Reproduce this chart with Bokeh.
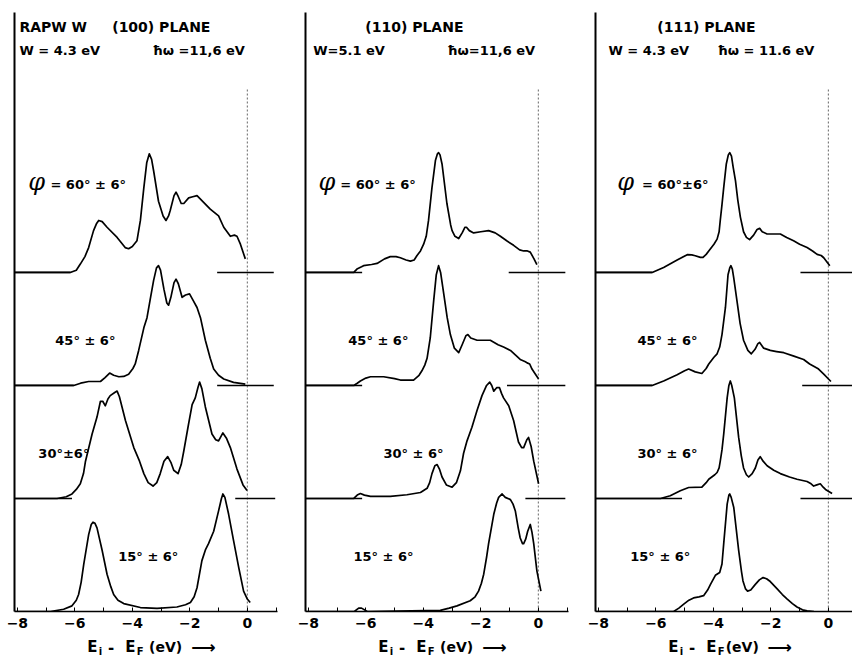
from bokeh.plotting import figure
from bokeh.layouts import row, column
from bokeh.models import Range1d, FixedTicker
from bokeh.core.properties import value
from bokeh.embed import file_html
from bokeh.resources import INLINE

# ---------------- data: (E_i - E_F in eV, intensity in arbitrary units) ----------------
angles = ["60", "45", "30", "15"]
major_ticks = [-8, -6, -4, -2, 0]
minor_ticks = [-7, -5, -3, -1, 1]

# (100) plane
s100_60 = [(-6.16, 0), (-5.95, 0.02), (-5.81, 0.074), (-5.65, 0.14), (-5.52, 0.22), (-5.35, 0.37), (-5.25, 0.43),
           (-5.17, 0.46), (-5.05, 0.45), (-4.88, 0.40), (-4.53, 0.31), (-4.25, 0.22), (-4.13, 0.21), (-4.00, 0.23),
           (-3.84, 0.28), (-3.72, 0.46), (-3.60, 0.75), (-3.50, 0.97), (-3.41, 1.05), (-3.33, 1.00), (-3.26, 0.90),
           (-3.09, 0.63), (-2.93, 0.50), (-2.83, 0.46), (-2.74, 0.50), (-2.68, 0.55), (-2.55, 0.68), (-2.48, 0.71),
           (-2.40, 0.67), (-2.30, 0.61), (-2.21, 0.61), (-2.04, 0.66), (-1.90, 0.67), (-1.75, 0.68), (-1.52, 0.62),
           (-1.29, 0.56), (-1.00, 0.50), (-0.82, 0.40), (-0.59, 0.32), (-0.45, 0.33), (-0.36, 0.32), (-0.24, 0.25),
           (-0.07, 0.12)]
s100_45 = [(-6.04, 0), (-5.80, 0.02), (-5.52, 0.035), (-5.11, 0.035), (-4.95, 0.07), (-4.79, 0.11), (-4.65, 0.09),
           (-4.47, 0.077), (-4.30, 0.08), (-4.13, 0.10), (-3.98, 0.15), (-3.90, 0.19), (-3.78, 0.31), (-3.60, 0.51),
           (-3.49, 0.60), (-3.38, 0.76), (-3.26, 0.93), (-3.16, 1.04), (-3.09, 1.06), (-3.02, 1.02), (-2.90, 0.85),
           (-2.80, 0.73), (-2.74, 0.71), (-2.66, 0.78), (-2.55, 0.91), (-2.48, 0.94), (-2.40, 0.90), (-2.27, 0.78),
           (-2.15, 0.80), (-2.01, 0.81), (-1.90, 0.76), (-1.75, 0.69), (-1.63, 0.60), (-1.46, 0.40), (-1.29, 0.24),
           (-1.17, 0.145), (-1.00, 0.09), (-0.82, 0.057), (-0.48, 0.027), (-0.07, 0.012)]
s100_30 = [(-6.62, 0), (-6.30, 0.015), (-6.10, 0.04), (-5.95, 0.08), (-5.81, 0.13), (-5.70, 0.22), (-5.63, 0.33),
           (-5.40, 0.57), (-5.23, 0.72), (-5.11, 0.86), (-5.03, 0.86), (-4.94, 0.82), (-4.85, 0.88), (-4.77, 0.91),
           (-4.60, 0.94), (-4.53, 0.95), (-4.45, 0.90), (-4.24, 0.69), (-3.95, 0.45), (-3.75, 0.33), (-3.60, 0.22),
           (-3.45, 0.14), (-3.28, 0.11), (-3.15, 0.14), (-3.03, 0.22), (-2.90, 0.33), (-2.77, 0.37), (-2.66, 0.32),
           (-2.56, 0.25), (-2.41, 0.22), (-2.30, 0.30), (-2.21, 0.42), (-2.05, 0.65), (-1.92, 0.83), (-1.81, 0.89),
           (-1.72, 0.98), (-1.66, 1.03), (-1.58, 0.97), (-1.46, 0.81), (-1.23, 0.57), (-1.10, 0.52), (-1.00, 0.51),
           (-0.85, 0.58), (-0.72, 0.53), (-0.59, 0.45), (-0.36, 0.26), (-0.15, 0.12), (-0.01, 0.07)]
s100_15 = [(-6.85, 0), (-6.39, 0.02), (-6.10, 0.05), (-5.95, 0.10), (-5.87, 0.15), (-5.78, 0.26), (-5.69, 0.42),
           (-5.52, 0.68), (-5.43, 0.77), (-5.37, 0.79), (-5.30, 0.78), (-5.23, 0.74), (-5.05, 0.54), (-4.88, 0.33),
           (-4.75, 0.22), (-4.65, 0.15), (-4.50, 0.10), (-4.30, 0.07), (-3.72, 0.035), (-3.14, 0.027), (-2.45, 0.04),
           (-2.15, 0.06), (-1.98, 0.08), (-1.85, 0.13), (-1.75, 0.21), (-1.58, 0.45), (-1.45, 0.55), (-1.35, 0.60),
           (-1.17, 0.71), (-1.00, 0.89), (-0.90, 1.00), (-0.85, 1.04), (-0.78, 1.01), (-0.65, 0.86), (-0.48, 0.63),
           (-0.30, 0.39), (-0.13, 0.18), (0.00, 0.11), (0.10, 0.08)]

# (110) plane
s110_60 = [(-6.42, 0), (-6.31, 0.03), (-6.15, 0.05), (-6.08, 0.06), (-5.80, 0.07), (-5.61, 0.08), (-5.35, 0.12),
           (-5.15, 0.14), (-4.95, 0.14), (-4.80, 0.13), (-4.60, 0.11), (-4.45, 0.10), (-4.32, 0.11), (-4.22, 0.15),
           (-4.10, 0.19), (-3.99, 0.25), (-3.90, 0.32), (-3.82, 0.46), (-3.70, 0.75), (-3.58, 0.99), (-3.51, 1.05),
           (-3.47, 1.06), (-3.42, 1.04), (-3.35, 0.96), (-3.18, 0.61), (-3.05, 0.42), (-3.00, 0.37), (-2.90, 0.32),
           (-2.77, 0.30), (-2.65, 0.35), (-2.55, 0.40), (-2.50, 0.40), (-2.40, 0.37), (-2.25, 0.35), (-2.00, 0.36),
           (-1.73, 0.37), (-1.50, 0.35), (-1.32, 0.32), (-1.10, 0.28), (-0.86, 0.24), (-0.65, 0.20), (-0.51, 0.19),
           (-0.38, 0.19), (-0.28, 0.18), (-0.15, 0.12), (-0.05, 0.07)]
s110_45 = [(-6.42, 0), (-6.30, 0.02), (-6.19, 0.04), (-6.00, 0.065), (-5.84, 0.077), (-5.38, 0.077), (-5.00, 0.06),
           (-4.80, 0.048), (-4.34, 0.048), (-4.15, 0.09), (-4.05, 0.13), (-3.95, 0.18), (-3.87, 0.24), (-3.76, 0.42),
           (-3.64, 0.75), (-3.55, 0.98), (-3.47, 1.06), (-3.40, 1.00), (-3.29, 0.81), (-3.17, 0.60), (-3.06, 0.45),
           (-2.92, 0.33), (-2.77, 0.29), (-2.65, 0.36), (-2.52, 0.44), (-2.45, 0.45), (-2.35, 0.42), (-2.13, 0.40),
           (-1.90, 0.40), (-1.67, 0.40), (-1.40, 0.36), (-1.21, 0.34), (-0.97, 0.31), (-0.80, 0.27), (-0.63, 0.23),
           (-0.45, 0.21), (-0.39, 0.20), (-0.30, 0.19), (-0.22, 0.145), (-0.10, 0.10), (0.01, 0.057)]
s110_30 = [(-6.42, 0), (-6.30, 0.03), (-6.19, 0.044), (-6.05, 0.03), (-5.84, 0.018), (-5.15, 0.018), (-4.57, 0.033),
           (-4.10, 0.053), (-3.87, 0.09), (-3.78, 0.14), (-3.70, 0.22), (-3.60, 0.29), (-3.52, 0.30), (-3.44, 0.26),
           (-3.35, 0.19), (-3.20, 0.12), (-3.00, 0.10), (-2.85, 0.14), (-2.71, 0.245), (-2.60, 0.40), (-2.48, 0.51),
           (-2.31, 0.63), (-2.13, 0.78), (-1.96, 0.91), (-1.80, 1.00), (-1.69, 1.03), (-1.62, 1.00), (-1.55, 0.95),
           (-1.45, 0.98), (-1.35, 0.98), (-1.28, 0.93), (-1.21, 0.89), (-1.03, 0.82), (-0.86, 0.69), (-0.69, 0.50),
           (-0.58, 0.45), (-0.51, 0.45), (-0.40, 0.52), (-0.34, 0.54), (-0.25, 0.46), (-0.16, 0.33), (0.01, 0.13)]
s110_15 = [(-6.40, 0), (-6.25, 0.03), (-6.15, 0.03), (-5.95, 0), (-3.41, 0.01), (-3.10, 0.03), (-2.83, 0.05),
           (-2.37, 0.095), (-2.20, 0.13), (-2.08, 0.18), (-1.98, 0.25), (-1.90, 0.33), (-1.80, 0.48), (-1.73, 0.60),
           (-1.55, 0.86), (-1.45, 0.96), (-1.38, 1.01), (-1.26, 1.04), (-1.15, 1.01), (-0.97, 0.99), (-0.88, 0.95),
           (-0.80, 0.89), (-0.70, 0.74), (-0.63, 0.65), (-0.55, 0.60), (-0.51, 0.60), (-0.44, 0.64), (-0.37, 0.71),
           (-0.28, 0.77), (-0.22, 0.70), (-0.16, 0.60), (-0.05, 0.36), (0.09, 0.18)]

# (111) plane
s111_60 = [(-6.13, 0), (-5.73, 0.044), (-5.26, 0.11), (-4.91, 0.157), (-4.75, 0.155), (-4.63, 0.148), (-4.45, 0.133),
           (-4.36, 0.133), (-4.25, 0.16), (-4.16, 0.19), (-3.98, 0.25), (-3.87, 0.295), (-3.80, 0.36), (-3.76, 0.46),
           (-3.70, 0.60), (-3.64, 0.75), (-3.55, 0.96), (-3.48, 1.04), (-3.43, 1.06), (-3.37, 1.03), (-3.31, 0.93),
           (-3.23, 0.81), (-3.15, 0.64), (-3.06, 0.49), (-2.95, 0.36), (-2.85, 0.31), (-2.74, 0.29), (-2.60, 0.33),
           (-2.48, 0.38), (-2.39, 0.39), (-2.30, 0.36), (-2.13, 0.34), (-1.90, 0.34), (-1.67, 0.34), (-1.45, 0.31),
           (-1.21, 0.28), (-1.00, 0.25), (-0.74, 0.22), (-0.55, 0.19), (-0.39, 0.16), (-0.25, 0.15), (-0.16, 0.13),
           (0.05, 0.06)]
s111_45 = [(-6.13, 0), (-5.73, 0.04), (-5.26, 0.095), (-5.00, 0.13), (-4.86, 0.145), (-4.63, 0.12), (-4.40, 0.106),
           (-4.25, 0.15), (-4.16, 0.19), (-3.98, 0.25), (-3.87, 0.28), (-3.78, 0.34), (-3.70, 0.45), (-3.58, 0.69),
           (-3.49, 0.98), (-3.43, 1.04), (-3.39, 1.06), (-3.34, 1.03), (-3.29, 0.95), (-3.18, 0.75), (-3.07, 0.55),
           (-2.95, 0.40), (-2.80, 0.31), (-2.68, 0.28), (-2.55, 0.32), (-2.45, 0.37), (-2.39, 0.38), (-2.25, 0.33),
           (-2.02, 0.31), (-1.80, 0.30), (-1.55, 0.29), (-1.20, 0.26), (-0.86, 0.23), (-0.65, 0.19), (-0.51, 0.17),
           (-0.40, 0.155), (-0.34, 0.145), (-0.16, 0.10), (0.09, 0.035)]
s111_30 = [(-5.84, 0), (-5.50, 0.024), (-5.15, 0.068), (-4.86, 0.097), (-4.40, 0.10), (-4.25, 0.14), (-4.16, 0.17),
           (-3.95, 0.21), (-3.87, 0.23), (-3.80, 0.27), (-3.76, 0.33), (-3.70, 0.43), (-3.64, 0.57), (-3.52, 0.89),
           (-3.46, 1.00), (-3.41, 1.04), (-3.36, 1.00), (-3.27, 0.89), (-3.12, 0.54), (-3.03, 0.38), (-2.95, 0.27),
           (-2.85, 0.21), (-2.77, 0.19), (-2.65, 0.22), (-2.54, 0.27), (-2.45, 0.34), (-2.37, 0.37), (-2.27, 0.33),
           (-2.13, 0.29), (-1.90, 0.25), (-1.67, 0.22), (-1.35, 0.19), (-1.09, 0.17), (-0.74, 0.15), (-0.60, 0.13),
           (-0.51, 0.11), (-0.40, 0.12), (-0.28, 0.13), (-0.18, 0.10), (-0.10, 0.08), (0.13, 0.044)]
s111_15 = [(-5.38, 0), (-5.20, 0.03), (-5.03, 0.065), (-4.85, 0.10), (-4.69, 0.12), (-4.50, 0.13), (-4.34, 0.14),
           (-4.20, 0.19), (-4.10, 0.24), (-3.93, 0.32), (-3.78, 0.345), (-3.70, 0.42), (-3.64, 0.60), (-3.52, 0.95),
           (-3.46, 1.03), (-3.43, 1.04), (-3.38, 1.01), (-3.29, 0.92), (-3.12, 0.54), (-3.02, 0.35), (-2.97, 0.27),
           (-2.88, 0.20), (-2.81, 0.18), (-2.70, 0.19), (-2.54, 0.24), (-2.40, 0.28), (-2.27, 0.30), (-2.15, 0.29),
           (-2.02, 0.265), (-1.78, 0.20), (-1.60, 0.15), (-1.43, 0.11), (-1.25, 0.07), (-1.09, 0.04), (-0.90, 0.015),
           (-0.74, 0.005), (-0.50, 0)]

# zero-intensity baseline stubs of the 60, 45, 30 degree curves
left_end_100 = [-6.16, -6.04, -6.10]
left_end_110 = [-6.13, -6.13, -6.13]
left_end_111 = [-6.13, -6.13, -5.09]
right_start_100 = [-1.05, -1.05, -0.42]
right_start_110 = [-1.03, -1.09, -0.45]
right_start_111 = [-0.97, -0.91, -0.97]
right_end_100 = [0.92, 0.92, 0.97]
right_end_110 = [0.94, 0.94, 0.94]
right_end_111 = [1.0, 1.0, 1.0]

# ---------------- layout / style ----------------
FONT = value("DejaVu Sans")
OFFSETS = [3, 2, 1, 0]
X0 = -8.1
Y_TOP = 5.30
FERMI_TOP = 4.62

panels = [
    dict(curves=[s100_60, s100_45, s100_30, s100_15],
         le=left_end_100, rs=right_start_100, re=right_end_100,
         xend=1.05, fw=263, bl=14, br=13,
         titles=[("RAPW W", -7.93, 5.17, "14px"), ("(100) PLANE", -4.70, 5.17, "14px"),
                 ("W = 4.3  eV", -7.93, 4.96, "13px"), ("\u0127\u03c9 =11,6 eV", -3.30, 4.96, "13px")],
         phi=(-7.62, 3.80),
         labels=[("= 60\u00b0 \u00b1 6\u00b0", -6.85, 3.78), ("45\u00b0 \u00b1 6\u00b0", -6.68, 2.40),
                 ("30\u00b0\u00b16\u00b0", -7.27, 1.40), ("15\u00b0 \u00b1 6\u00b0", -4.49, 0.49)],
         unit="(eV)", unit_dx=2.15, arrow_dx=3.62),
    dict(curves=[s110_60, s110_45, s110_30, s110_15],
         le=left_end_110, rs=right_start_110, re=right_end_110,
         xend=1.05, fw=263, bl=15, br=12,
         titles=[("(110) PLANE", -6.02, 5.17, "14px"),
                 ("W=5.1  eV", -7.83, 4.96, "13px"), ("\u0127\u03c9=11,6  eV", -3.17, 4.96, "13px")],
         phi=(-7.65, 3.80),
         labels=[("= 60\u00b0 \u00b1 6\u00b0", -6.89, 3.78), ("45\u00b0 \u00b1 6\u00b0", -6.61, 2.40),
                 ("30\u00b0 \u00b1 6\u00b0", -5.39, 1.40), ("15\u00b0 \u00b1 6\u00b0", -6.43, 0.49)],
         unit="(eV)", unit_dx=2.15, arrow_dx=3.62),
    dict(curves=[s111_60, s111_45, s111_30, s111_15],
         le=left_end_111, rs=right_start_111, re=right_end_111,
         xend=0.84, fw=257, bl=15, br=0,
         titles=[("(111) PLANE", -5.95, 5.17, "14px"),
                 ("W = 4.3  eV", -7.65, 4.96, "13px"), ("\u0127\u03c9 = 11.6  eV", -3.86, 4.96, "13px")],
         phi=(-7.34, 3.80),
         labels=[("= 60\u00b0\u00b16\u00b0", -6.48, 3.78), ("45\u00b0 \u00b1 6\u00b0", -6.64, 2.40),
                 ("30\u00b0 \u00b1 6\u00b0", -6.64, 1.40), ("15\u00b0 \u00b1 6\u00b0", -6.89, 0.49)],
         unit="(eV)", unit_dx=2.0, arrow_dx=3.45),
]


def bare(p):
    p.outline_line_color = None
    p.xgrid.visible = False
    p.ygrid.visible = False
    p.background_fill_color = "white"
    p.border_fill_color = "white"


def make_panel(cfg):
    p = figure(x_range=Range1d(X0, cfg["xend"]), y_range=Range1d(0, Y_TOP),
               frame_width=cfg["fw"], frame_height=599,
               min_border_left=cfg["bl"], min_border_right=cfg["br"],
               min_border_top=12, min_border_bottom=23,
               output_backend="svg", toolbar_location=None, tools="")
    bare(p)

    ax = p.xaxis[0]
    ax.ticker = FixedTicker(ticks=major_ticks, minor_ticks=minor_ticks)
    ax.major_tick_in = 4
    ax.major_tick_out = 0
    ax.minor_tick_in = 4
    ax.minor_tick_out = 0
    ax.major_tick_line_width = 1
    ax.minor_tick_line_width = 1
    ax.minor_tick_line_color = "black"
    ax.axis_line_width = 1.6
    ax.axis_line_color = "black"
    ax.major_label_text_font = "DejaVu Sans"
    ax.major_label_text_font_style = "bold"
    ax.major_label_text_font_size = "14px"
    ax.major_label_text_color = "black"
    ax.major_label_standoff = 6

    ay = p.yaxis[0]
    ay.ticker = FixedTicker(ticks=[], minor_ticks=[])
    ay.major_tick_line_color = None
    ay.minor_tick_line_color = None
    ay.axis_line_width = 2
    ay.axis_line_color = "black"

    # Fermi level marker
    p.segment(x0=[0], y0=[0], x1=[0], y1=[FERMI_TOP], line_color="#666666",
              line_width=1, line_dash="2 2")

    # baselines
    for k in range(3):
        off = OFFSETS[k]
        p.segment(x0=[X0, cfg["rs"][k]], y0=[off, off], x1=[cfg["le"][k], cfg["re"][k]], y1=[off, off],
                  line_color="black", line_width=1.6)

    # spectra
    for k, pts in enumerate(cfg["curves"]):
        off = OFFSETS[k]
        xs = [X0] + [e for e, _ in pts]
        ys = [off] + [v + off for _, v in pts]
        p.line(xs, ys, line_color="black", line_width=1.7, line_join="round")

    for txt, x, y, fs in cfg["titles"]:
        p.text(x=[x], y=[y], text=[txt], text_font=FONT, text_font_style="bold",
               text_font_size=fs, text_baseline="middle", text_color="black")
    px, py = cfg["phi"]
    p.text(x=[px], y=[py], text=["\u03c6"], text_font=value("DejaVu Serif"), text_font_style="italic",
           text_font_size="24px", text_baseline="middle", text_color="black")
    for txt, x, y in cfg["labels"]:
        p.text(x=[x], y=[y], text=[txt], text_font=FONT, text_font_style="bold",
               text_font_size="13px", text_baseline="middle", text_color="black")

    # axis title strip: E_i - E_F (eV) ->
    q = figure(x_range=p.x_range, y_range=Range1d(0, 22),
               frame_width=cfg["fw"], frame_height=22,
               min_border_left=cfg["bl"], min_border_right=cfg["br"],
               min_border_top=0, min_border_bottom=0,
               x_axis_type=None, y_axis_type=None,
               output_backend="svg", toolbar_location=None, tools="")
    bare(q)
    base = -5.57
    pieces = [("E", 0.0, 10, "15px"), ("i", 0.40, 5, "10px"), ("-", 0.72, 10, "15px"),
              ("E", 1.32, 10, "15px"), ("F", 1.72, 5, "10px"), (cfg["unit"], cfg["unit_dx"], 10, "14px"),
              ("\u27f6", cfg["arrow_dx"], 10, "17px")]
    for txt, dx, y, fs in pieces:
        q.text(x=[base + dx], y=[y], text=[txt], text_font=FONT, text_font_style="bold",
               text_font_size=fs, text_baseline="middle", text_color="black")
    return column(p, q)


layout = row(*[make_panel(c) for c in panels])
open("out.html", "w").write(file_html(layout, INLINE))
